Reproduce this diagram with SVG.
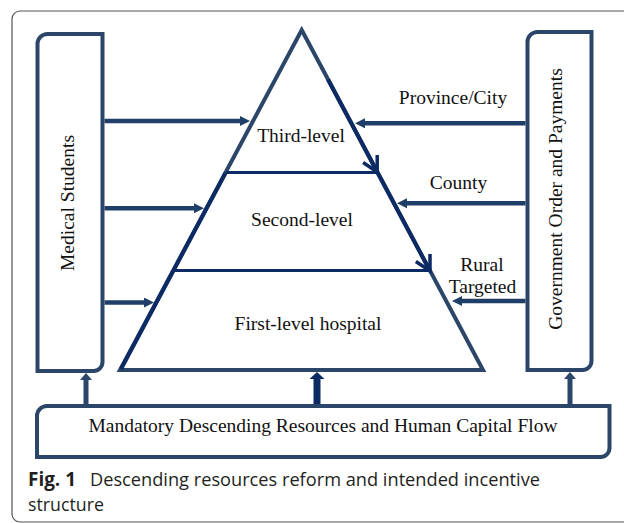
<svg xmlns="http://www.w3.org/2000/svg" width="624" height="523" viewBox="0 0 624 523">
  <defs>
    <style>
      .box { fill: none; stroke: #2b4669; stroke-width: 4; }
      .tri { fill: none; stroke: #2b4669; stroke-width: 4; stroke-linejoin: miter; }
      .navy { fill: none; stroke: #0c2a64; stroke-width: 4; }
      .tier { fill: none; stroke: #0c2a64; stroke-width: 3; }
      .flow { fill: none; stroke: #203f68; stroke-width: 4.5; marker-end: url(#head); }
      .flow-up { fill: none; stroke: #2b4669; stroke-width: 5; marker-end: url(#headUp); }
      .flow-main { fill: none; stroke: #0c2a64; stroke-width: 7; marker-end: url(#headMain); }
      .label { font-family: "Liberation Serif", "Times New Roman", serif; font-size: 19.5px; fill: #111; }
      .cap { font-family: "Open Sans", "Noto Sans", sans-serif; font-size: 19px; fill: #231f20; }
      .frame { fill: none; stroke: #555; stroke-width: 1.2; }
    </style>
    <marker id="head" viewBox="0 0 10 10" markerUnits="userSpaceOnUse" markerWidth="10" markerHeight="10" refX="4" refY="5" orient="auto">
      <path d="M0,0 L10,5 L0,10 z" fill="#203f68"/>
    </marker>
    <marker id="headUp" viewBox="0 0 7 12" markerUnits="userSpaceOnUse" markerWidth="7" markerHeight="12" refX="1" refY="6" orient="auto">
      <path d="M0,0 L7,6 L0,12 z" fill="#2b4669"/>
    </marker>
    <marker id="headMain" viewBox="0 0 7 15" markerUnits="userSpaceOnUse" markerWidth="7" markerHeight="15" refX="1" refY="7.5" orient="auto">
      <path d="M0,0 L7,7.5 L0,15 z" fill="#0c2a64"/>
    </marker>
    <marker id="chevron" viewBox="-20 -12 24 24" markerUnits="userSpaceOnUse" markerWidth="24" markerHeight="24" refX="0" refY="0" orient="auto" overflow="visible">
      <path d="M-15,-8 L0,0 L-15,8" fill="none" stroke="#0c2a64" stroke-width="3.5" stroke-linejoin="miter"/>
    </marker>
  </defs>

  <!-- figure frame -->
  <rect class="frame" x="12" y="11" width="700" height="511" rx="8"/>

  <!-- left column: medical students -->
  <g id="medical-students">
    <path class="box" d="M37.5,44 A10,10 0 0 1 47.5,34 H102.5 V362 A9,9 0 0 1 93.5,371 H37.5 Z"/>
    <text class="label" transform="translate(74,203) rotate(-90)" text-anchor="middle">Medical Students</text>
  </g>

  <!-- right column: government order and payments -->
  <g id="government">
    <path class="box" d="M527.5,42 A10,10 0 0 1 537.5,32 H591.5 V361 A9,9 0 0 1 582.5,370 H527.5 Z"/>
    <text class="label" transform="translate(562,199) rotate(-90)" text-anchor="middle">Government Order and Payments</text>
  </g>

  <!-- hospital pyramid -->
  <g id="pyramid">
    <polygon class="tri" points="301.7,30 483,370 120,370"/>
    <line class="tier" x1="226" y1="172.5" x2="377" y2="172.5"/>
    <line class="tier" x1="175" y1="270.5" x2="428" y2="270.5"/>
    <line class="navy" x1="225.5" y1="173" x2="121" y2="369"/>
    <line class="navy" x1="328" y1="79.5" x2="377.2" y2="172" marker-end="url(#chevron)"/>
    <line class="navy" x1="377.2" y1="172" x2="430" y2="271" marker-end="url(#chevron)"/>
  </g>
  <g id="third-level">
    <text class="label" x="301" y="141.5" text-anchor="middle">Third-level</text>
  </g>
  <g id="second-level">
    <text class="label" x="302" y="226" text-anchor="middle">Second-level</text>
  </g>
  <g id="first-level">
    <text class="label" x="308" y="329.5" text-anchor="middle">First-level hospital</text>
  </g>

  <!-- base: mandatory descending flow -->
  <g id="descending-flow">
    <path class="box" d="M37,416 A10,10 0 0 1 47,406 H609.5 V448 A9,9 0 0 1 600.5,457 H37 Z"/>
    <text class="label" x="323" y="432" text-anchor="middle">Mandatory Descending Resources and Human Capital Flow</text>
  </g>

  <!-- connector labels -->
  <g id="payment-labels">
    <text class="label" x="453" y="103.5" text-anchor="middle">Province/City</text>
    <text class="label" x="458.5" y="189" text-anchor="middle">County</text>
    <text class="label" x="482" y="270.5" text-anchor="middle">Rural</text>
    <text class="label" x="482.5" y="292.5" text-anchor="middle">Targeted</text>
  </g>

  <!-- connectors -->
  <g id="connectors">
    <line class="flow" x1="104.5" y1="121" x2="244" y2="121"/>
    <line class="flow" x1="104.5" y1="208.3" x2="198" y2="208.3"/>
    <line class="flow" x1="104.5" y1="302.5" x2="148" y2="302.5"/>
    <line class="flow" x1="525.5" y1="123.3" x2="361" y2="123.3"/>
    <line class="flow" x1="525.5" y1="203.3" x2="403" y2="203.3"/>
    <line class="flow" x1="525.5" y1="301" x2="458" y2="301"/>
    <line class="flow-up" x1="86" y1="404" x2="86" y2="379"/>
    <line class="flow-main" x1="317" y1="404" x2="317" y2="378"/>
    <line class="flow-up" x1="570" y1="404" x2="570" y2="378"/>
  </g>

  <!-- caption -->
  <g id="caption">
    <text class="cap" x="28" y="486" font-weight="bold" fill="#111" textLength="48" lengthAdjust="spacingAndGlyphs">Fig. 1</text>
    <text class="cap" x="90" y="486" textLength="450" lengthAdjust="spacingAndGlyphs">Descending resources reform and intended incentive</text>
    <text class="cap" x="28" y="511" textLength="76" lengthAdjust="spacingAndGlyphs">structure</text>
  </g>
</svg>
